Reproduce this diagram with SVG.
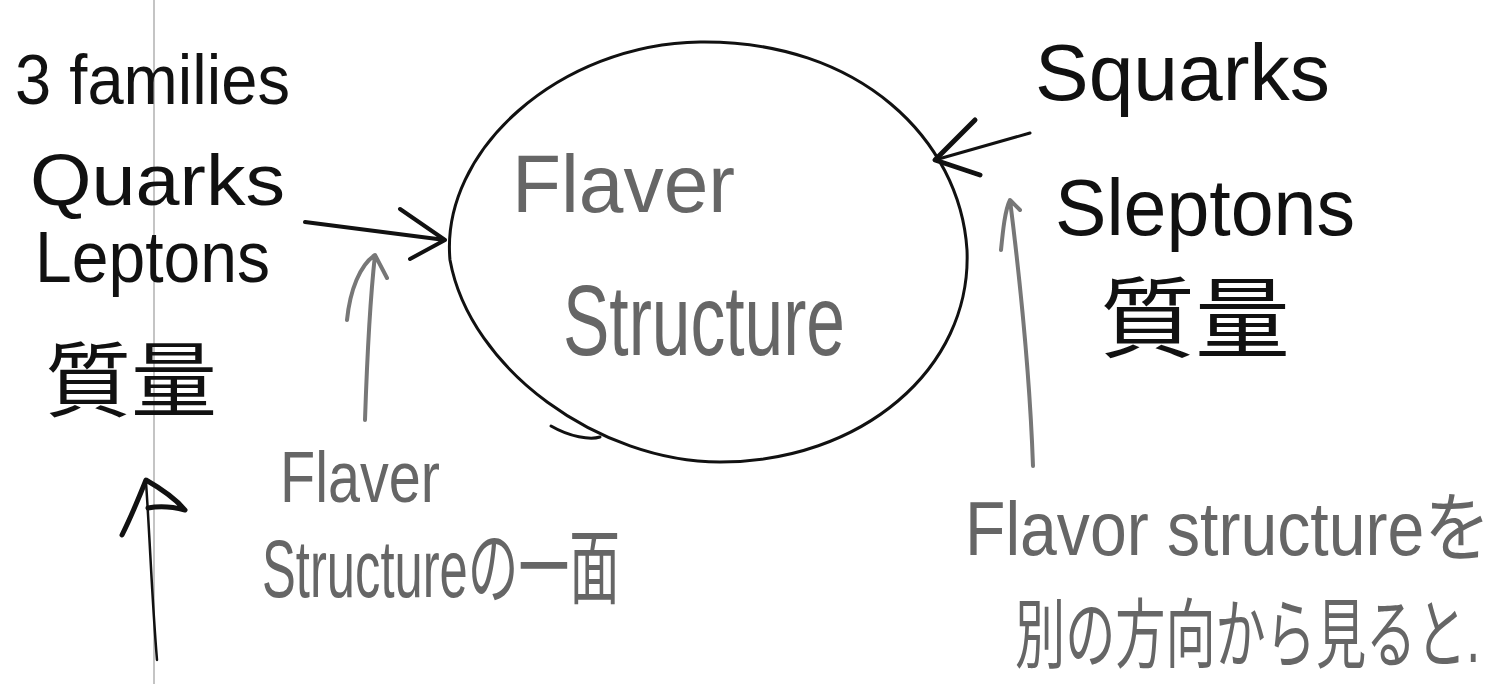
<svg xmlns="http://www.w3.org/2000/svg" width="1510" height="684" viewBox="0 0 1510 684">
<style>
.k{font-family:"Liberation Sans","Noto Sans CJK JP",sans-serif;fill:#111}
.g{font-family:"Liberation Sans","Noto Sans CJK JP",sans-serif;fill:#666}
.ln{fill:none;stroke:#111;stroke-linecap:round;stroke-linejoin:round}
.gl{fill:none;stroke:#777;stroke-linecap:round;stroke-linejoin:round}
</style>
<rect width="1510" height="684" fill="#fff"/>
<line x1="154" y1="0" x2="154" y2="684" stroke="#c4c4c4" stroke-width="2"/>
<g id="center">
<path class="ln" stroke-width="3" d="M700,42 C860,40 960,140 967,250 C972,370 860,462 720,462 C600,462 470,370 450,260 C440,150 560,44 700,42 Z"/>
<path class="ln" stroke-width="3" d="M551,426 C570,437 590,440 600,437"/>
<text class="g" x="512" y="212" font-size="82" textLength="223" lengthAdjust="spacingAndGlyphs">Flaver</text>
<text class="g" x="563" y="355" font-size="100" textLength="282" lengthAdjust="spacingAndGlyphs">Structure</text>
</g>
<g id="left">
<text class="k" x="15" y="104" font-size="70" textLength="275" lengthAdjust="spacingAndGlyphs">3 families</text>
<text class="k" x="30" y="205" font-size="72" textLength="255" lengthAdjust="spacingAndGlyphs">Quarks</text>
<text class="k" x="35" y="282" font-size="72" textLength="235" lengthAdjust="spacingAndGlyphs">Leptons</text>
<text class="k" x="45" y="410" font-size="82" textLength="172" lengthAdjust="spacingAndGlyphs">質量</text>
</g>
<g id="right">
<text class="k" x="1035" y="100" font-size="80" textLength="295" lengthAdjust="spacingAndGlyphs">Squarks</text>
<text class="k" x="1055" y="235" font-size="80" textLength="300" lengthAdjust="spacingAndGlyphs">Sleptons</text>
<text class="k" x="1100" y="350" font-size="88" textLength="190" lengthAdjust="spacingAndGlyphs">質量</text>
</g>
<g id="bottom-left">
<text class="g" x="280" y="502" font-size="72" textLength="160" lengthAdjust="spacingAndGlyphs">Flaver</text>
<text class="g" x="262" y="597" font-size="82" textLength="358" lengthAdjust="spacingAndGlyphs">Structureの一面</text>
</g>
<g id="bottom-right">
<g transform="translate(965,555) scale(0.87,1)"><text class="g" x="0" y="0" font-size="76">Flavor structureを</text></g>
<g transform="translate(1015,662) scale(0.66,1)"><text class="g" x="0" y="0" font-size="76">別の方向から見ると.</text></g>
</g>
<g id="connectors">
<path class="ln" stroke-width="4" d="M305,222 L445,240 M400,209 L445,240 L410,259"/>
<path class="gl" stroke-width="4" d="M365,420 C367,360 370,300 375,255 M347,320 C350,290 360,265 375,255 L387,278"/>
<path class="ln" stroke-width="2.5" d="M157,660 C152,600 150,540 146,482"/>
<path class="ln" stroke-width="5" d="M122,535 C132,515 140,495 146,480 C160,488 175,498 185,510 C170,506 158,506 148,508"/>
<path class="ln" stroke-width="3" d="M1030,133 L935,160"/>
<path class="ln" stroke-width="5" d="M975,120 L935,160 L980,175"/>
<path class="gl" stroke-width="4" d="M1033,466 C1030,380 1020,280 1010,200 M1001,250 C1003,230 1005,210 1010,200 L1020,210"/>
</g>
</svg>
